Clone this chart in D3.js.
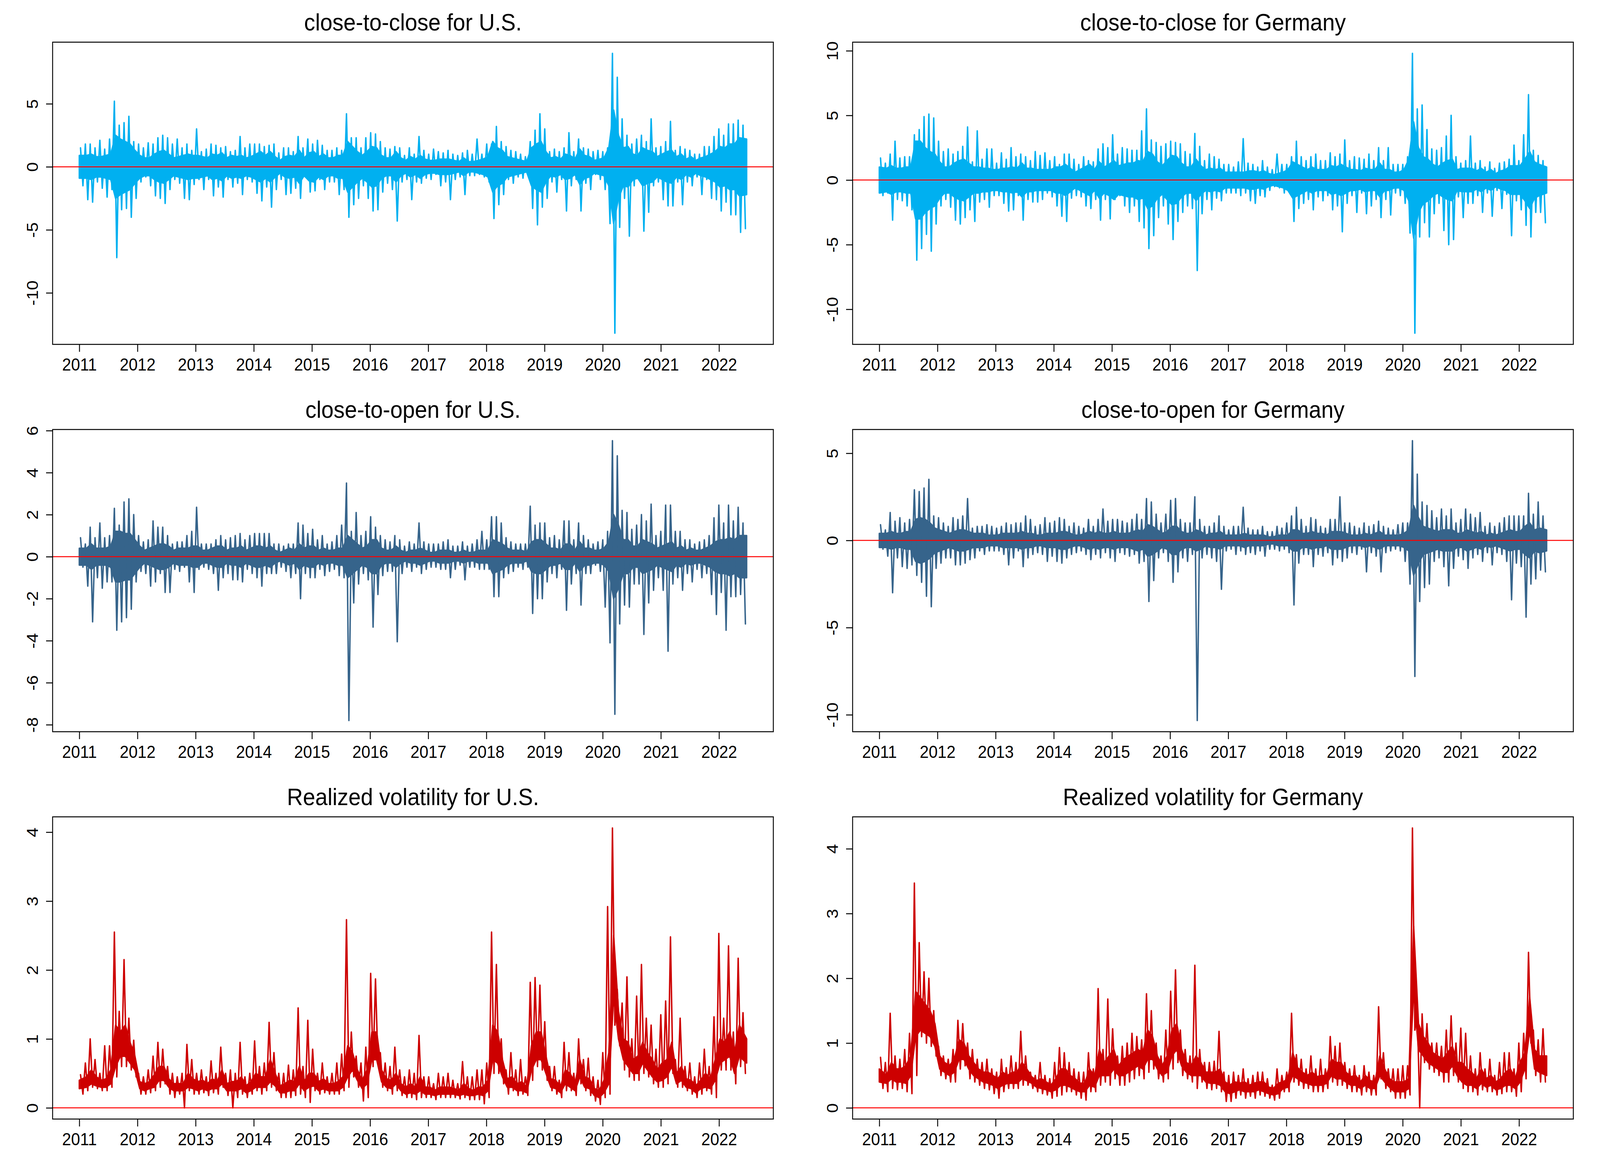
<!DOCTYPE html>
<html><head><meta charset="utf-8">
<script src="https://cdn.jsdelivr.net/npm/d3@7"></script>
<style>html,body{margin:0;padding:0;background:#fff;overflow:hidden} svg{display:block;width:100vw;height:100vh}</style>
</head><body><svg id="chart" viewBox="0 0 4409 2976" preserveAspectRatio="none"></svg>
<script>
// ---------- data, one value per month, Jan 2011 .. Jun 2022 ----------
const seriesStart = 2011.0;   // first trading day (decimal year)
const seriesEnd = 2022.475;   // last trading day (decimal year)
const yearTicks = [2011,2012,2013,2014,2015,2016,2017,2018,2019,2020,2021,2022];

// monthly maximum / minimum (spikes)
const usCCHi = [
 1.5,1.8,1.8,1.5,2.1,1.4,2.2,5.2,3.3,3.5,4.0,2.0,
 1.8,1.5,1.9,1.8,2.3,2.5,2.3,1.8,2.2,1.5,1.8,1.3,
 3.0,1.2,1.4,1.8,1.7,1.5,1.6,1.2,1.3,2.4,1.5,1.8,
 1.8,1.8,1.6,1.7,1.8,1.1,1.5,1.5,1.2,2.4,1.5,2.2,
 1.8,2.1,1.7,1.3,1.3,1.5,1.3,4.2,2.3,2.3,1.5,2.3,
 2.7,2.6,2.0,1.5,1.4,1.6,1.5,0.9,1.5,1.0,2.4,1.3,
 1.0,1.4,1.2,1.1,1.3,1.0,0.9,1.1,1.3,1.0,2.2,1.0,
 1.8,1.8,3.2,2.0,1.6,1.3,1.2,1.0,0.8,2.0,2.9,4.2,
 3.0,1.2,1.4,1.2,1.5,2.7,1.2,2.2,1.5,1.4,1.2,1.3,
 1.2,1.5,9.0,7.1,3.8,2.5,1.8,2.2,2.5,2.0,3.8,1.5,
 1.6,2.0,3.6,1.3,1.6,1.4,1.3,1.0,1.0,1.6,1.6,2.4,
 3.0,2.5,3.4,3.4,3.7,3.3];
const usCCLo = [
 -1.5,-2.6,-2.8,-1.2,-1.7,-2.4,-1.8,-7.2,-3.4,-3.3,-4.0,-2.5,
 -1.2,-0.8,-1.5,-2.3,-2.5,-2.9,-1.8,-1.0,-1.3,-2.5,-2.6,-1.4,
 -1.0,-1.8,-1.0,-2.3,-1.6,-2.4,-1.0,-1.6,-1.3,-2.2,-1.0,-1.2,
 -2.1,-2.7,-1.6,-3.2,-1.8,-1.0,-2.2,-2.1,-1.7,-2.5,-0.8,-2.0,
 -1.9,-1.0,-1.8,-1.2,-1.2,-2.2,-1.8,-4.0,-3.0,-2.5,-1.5,-2.5,
 -3.5,-3.4,-2.0,-1.3,-1.8,-4.3,-1.2,-1.0,-2.6,-1.2,-1.3,-0.9,
 -1.0,-0.6,-1.5,-1.2,-2.6,-1.0,-0.8,-2.2,-0.7,-0.7,-0.6,-0.8,
 -1.2,-4.1,-3.0,-2.2,-1.0,-1.3,-0.8,-0.9,-0.6,-3.3,-4.6,-3.2,
 -2.5,-1.2,-2.0,-1.0,-3.5,-1.5,-1.0,-3.5,-1.3,-1.8,-0.6,-1.0,
 -1.8,-4.5,-13.2,-4.8,-2.5,-5.5,-1.5,-1.0,-5.1,-3.6,-1.5,-1.2,
 -2.6,-3.1,-3.1,-1.2,-3.0,-1.2,-1.5,-0.8,-2.2,-1.0,-2.5,-2.6,
 -3.5,-2.8,-3.8,-3.8,-5.2,-4.9];
// typical daily swing (edge of the dense band)
const usCCBand = [
 0.9,0.9,1.0,0.8,0.8,0.9,1.0,2.5,2.2,2.0,1.8,1.3,
 0.9,0.7,0.7,1.0,1.2,1.3,1.0,0.7,0.8,0.9,1.0,0.9,
 0.9,0.8,0.7,1.0,0.9,1.1,0.7,0.9,0.8,0.9,0.7,0.8,
 1.0,1.2,0.9,1.2,0.8,0.5,0.8,0.9,0.8,1.3,0.7,1.1,
 1.2,0.8,1.0,0.7,0.7,0.9,0.9,2.0,1.6,1.2,0.9,1.2,
 1.6,1.5,0.9,0.7,0.7,1.2,0.7,0.5,0.8,0.6,0.9,0.6,
 0.5,0.5,0.6,0.6,0.6,0.5,0.4,0.7,0.4,0.4,0.5,0.6,
 0.8,2.0,1.5,1.3,0.8,0.7,0.6,0.5,0.4,1.5,1.8,2.0,
 1.2,0.7,0.8,0.6,1.0,0.9,0.6,1.4,0.9,0.8,0.5,0.6,
 0.7,1.5,4.5,2.5,1.5,1.6,1.0,0.9,1.5,1.3,1.2,0.8,
 1.0,1.2,1.3,0.8,1.0,0.6,0.8,0.5,0.7,0.8,1.0,1.2,
 1.6,1.5,1.8,1.8,2.3,2.2];

const deCCHi = [
 1.7,1.3,2.0,3.0,1.7,1.8,1.8,3.5,3.9,4.9,5.1,4.8,
 3.0,2.2,2.4,2.0,2.2,2.6,4.1,1.4,3.8,1.6,2.4,2.4,
 1.3,2.1,1.6,2.5,1.8,2.0,1.8,1.5,2.2,1.9,2.1,1.5,
 1.8,1.2,2.0,2.0,1.6,1.2,1.8,1.5,1.4,2.4,2.8,2.5,
 3.5,2.0,2.5,2.4,2.3,2.3,3.8,5.5,3.1,2.9,2.6,2.8,
 3.0,2.9,2.8,2.2,2.0,3.6,2.6,1.5,2.0,1.8,1.6,1.2,
 1.2,1.0,1.4,3.2,1.3,1.2,1.0,1.5,1.0,0.8,2.0,1.2,
 1.2,1.8,3.0,1.8,1.5,1.8,2.0,1.5,1.5,2.1,1.8,2.0,
 3.1,1.5,1.8,1.7,1.6,2.0,1.5,2.5,1.5,2.5,1.2,1.2,
 1.2,1.8,9.8,5.5,5.8,3.9,2.4,2.3,2.5,3.4,5.0,1.8,
 1.3,1.5,3.4,1.3,1.5,1.0,1.4,0.9,1.3,1.4,1.6,2.7,
 1.5,3.5,6.6,2.3,1.9,1.5];
const deCCLo = [
 -1.2,-1.0,-3.1,-1.5,-1.6,-2.0,-2.3,-6.2,-5.3,-4.2,-5.5,-3.4,
 -2.0,-1.5,-2.1,-3.1,-3.4,-2.9,-2.3,-3.2,-1.7,-1.5,-2.1,-1.2,
 -1.2,-1.8,-2.4,-2.3,-1.2,-3.1,-1.5,-1.7,-1.7,-1.5,-1.0,-1.3,
 -2.0,-2.8,-3.2,-1.4,-1.2,-1.3,-2.0,-2.2,-1.5,-3.1,-1.5,-3.0,
 -1.5,-1.2,-2.0,-2.5,-2.0,-3.2,-3.7,-5.3,-4.3,-2.9,-2.0,-3.4,
 -4.6,-3.2,-2.5,-2.0,-2.2,-7.0,-2.6,-1.5,-2.3,-1.4,-1.6,-1.0,
 -1.0,-1.0,-1.2,-1.0,-1.6,-1.8,-1.2,-1.3,-0.8,-0.5,-0.6,-1.0,
 -0.8,-3.2,-2.2,-1.8,-1.5,-2.3,-1.3,-1.6,-1.2,-2.3,-2.0,-4.0,
 -1.8,-1.2,-2.5,-1.0,-2.6,-2.0,-1.5,-2.9,-1.5,-2.7,-1.0,-1.2,
 -1.8,-4.1,-11.85,-4.4,-3.3,-4.4,-2.6,-1.8,-3.9,-5.0,-4.6,-1.3,
 -2.9,-1.8,-1.8,-1.2,-2.5,-1.0,-2.8,-0.8,-2.2,-1.1,-4.3,-1.6,
 -2.3,-3.5,-4.4,-2.5,-2.5,-3.3];
const deCCBand = [
 1.0,0.9,1.1,0.9,0.9,1.0,1.0,3.0,3.0,2.5,2.2,2.0,
 1.4,1.0,1.0,1.3,1.5,1.6,1.3,1.0,1.0,0.9,0.9,0.8,
 0.8,0.9,0.9,1.0,0.9,1.3,0.9,0.9,0.8,0.8,0.8,0.8,
 1.0,1.0,1.2,0.9,0.6,0.8,1.0,1.2,0.8,1.4,1.0,1.2,
 1.5,1.1,1.2,1.3,1.3,1.5,1.4,2.2,2.0,1.4,1.1,1.5,
 1.9,1.8,1.3,1.0,1.0,1.6,1.1,0.8,0.9,0.8,0.9,0.6,
 0.6,0.6,0.6,0.6,0.7,0.7,0.6,0.7,0.5,0.4,0.5,0.6,
 0.8,1.4,1.2,1.0,0.8,1.0,0.8,0.8,0.8,1.1,1.0,1.2,
 1.0,0.8,0.8,0.7,0.9,0.8,0.8,1.3,0.8,0.8,0.6,0.6,
 0.8,1.6,4.5,2.5,1.8,1.6,1.2,1.0,1.3,1.5,1.6,0.8,
 0.9,0.9,0.9,0.7,0.9,0.6,0.8,0.5,0.7,0.8,1.1,1.1,
 1.1,1.6,2.2,1.4,1.2,1.0];

const usCOHi = [
 0.9,0.6,1.4,0.9,1.6,0.9,1.0,2.3,1.5,2.6,2.75,2.0,
 1.0,0.7,0.8,1.7,1.4,1.4,1.0,0.6,0.7,0.7,1.0,1.2,
 2.35,0.6,0.6,0.6,0.8,1.0,0.8,0.9,1.0,1.1,0.8,1.0,
 1.1,1.1,1.1,1.1,0.6,0.6,0.5,0.6,0.6,1.6,1.5,1.1,
 1.3,0.8,1.0,0.6,0.7,1.0,1.5,3.5,1.2,2.1,1.0,1.2,
 1.9,1.4,1.0,0.8,0.7,1.0,0.8,0.5,0.7,0.6,1.6,0.7,
 0.6,0.6,0.6,0.7,0.8,0.5,0.5,0.7,0.5,0.6,0.8,1.2,
 0.8,1.9,1.9,1.6,0.9,0.7,0.6,0.6,0.6,2.4,1.5,1.6,
 1.6,0.9,1.0,0.8,1.7,1.7,0.8,1.6,1.0,0.8,0.6,0.7,
 0.8,1.2,5.52,4.8,2.2,2.1,1.3,1.5,2.0,1.7,2.5,1.0,
 1.2,2.45,2.45,1.2,1.2,0.8,0.8,0.6,0.7,0.8,1.0,1.85,
 2.45,1.6,2.45,1.7,2.35,1.6];
const usCOLo = [
 -0.5,-1.4,-3.1,-1.0,-1.5,-1.2,-1.2,-3.5,-3.1,-2.9,-2.5,-1.2,
 -0.7,-0.8,-1.4,-1.2,-0.8,-1.7,-1.7,-0.6,-0.7,-0.5,-1.2,-1.7,
 -0.6,-0.5,-0.6,-0.8,-1.6,-1.0,-0.8,-1.1,-1.1,-1.2,-0.6,-0.8,
 -1.0,-1.4,-0.8,-0.8,-0.8,-0.5,-0.7,-1.0,-0.8,-2.0,-0.8,-1.0,
 -1.0,-0.6,-0.9,-0.7,-0.6,-0.9,-1.0,-7.8,-2.2,-1.3,-0.8,-1.1,
 -3.35,-1.8,-0.9,-0.7,-0.7,-4.05,-0.8,-0.5,-0.7,-0.5,-0.8,-0.6,
 -0.5,-0.5,-0.6,-0.6,-1.0,-0.6,-0.4,-1.1,-0.5,-0.5,-0.6,-0.6,
 -0.6,-1.9,-1.9,-1.0,-0.8,-0.7,-0.5,-0.6,-0.5,-2.7,-2.0,-2.0,
 -1.2,-0.8,-1.0,-0.6,-2.55,-1.3,-0.8,-2.3,-0.8,-0.8,-0.4,-0.7,
 -2.4,-4.1,-7.5,-3.2,-2.3,-2.4,-1.3,-1.3,-3.7,-2.2,-1.6,-1.0,
 -1.6,-4.5,-1.3,-1.0,-1.6,-0.8,-1.2,-0.6,-1.0,-0.8,-1.8,-2.75,
 -1.7,-3.5,-1.9,-1.9,-1.8,-3.2];
const usCOBand = [
 0.4,0.4,0.6,0.4,0.4,0.4,0.5,1.2,1.2,1.1,1.1,0.8,
 0.5,0.3,0.4,0.5,0.6,0.6,0.5,0.3,0.4,0.4,0.4,0.5,
 0.5,0.3,0.3,0.4,0.5,0.5,0.3,0.4,0.4,0.5,0.3,0.4,
 0.5,0.5,0.4,0.5,0.3,0.2,0.3,0.4,0.3,0.6,0.4,0.5,
 0.5,0.3,0.4,0.3,0.3,0.4,0.4,1.0,0.8,0.6,0.4,0.5,
 0.8,0.8,0.4,0.3,0.3,0.5,0.3,0.2,0.3,0.3,0.4,0.3,
 0.2,0.2,0.3,0.3,0.3,0.2,0.2,0.3,0.2,0.2,0.3,0.3,
 0.3,0.8,0.7,0.6,0.4,0.3,0.3,0.3,0.2,0.7,0.8,0.8,
 0.6,0.4,0.4,0.3,0.6,0.6,0.3,0.7,0.4,0.4,0.3,0.3,
 0.4,0.7,2.0,1.5,0.8,0.8,0.5,0.5,0.8,0.7,0.6,0.4,
 0.5,0.6,0.7,0.4,0.5,0.3,0.4,0.3,0.3,0.4,0.5,0.7,
 0.8,0.8,0.9,0.8,1.0,1.0];

const deCOHi = [
 0.9,0.6,1.6,1.1,1.3,1.0,1.2,2.9,2.8,3.0,3.5,1.4,
 1.3,1.0,0.8,1.3,1.2,1.4,2.4,0.7,0.8,0.8,0.9,0.8,
 0.7,0.8,1.0,0.9,1.0,1.0,1.4,1.2,0.8,0.9,1.3,1.0,
 1.1,1.3,1.2,0.8,1.0,0.8,0.7,1.2,0.8,1.2,1.8,1.1,
 1.2,1.2,1.1,1.0,1.2,1.5,1.2,2.4,2.2,1.5,1.0,1.5,
 2.3,2.4,1.2,1.0,1.0,2.5,1.2,0.8,0.8,1.0,1.4,0.8,
 0.6,0.8,0.8,1.9,0.7,0.6,0.6,0.8,0.5,0.5,0.8,0.7,
 1.0,1.4,1.9,1.2,0.8,1.3,1.2,0.8,0.7,1.2,1.2,2.5,
 1.0,1.0,0.8,0.7,1.0,0.8,0.9,1.1,0.8,0.7,0.6,0.9,
 1.0,1.0,5.72,3.8,2.2,2.0,1.7,1.3,1.8,1.4,1.8,1.0,
 1.2,1.8,1.5,1.3,1.6,0.8,1.0,0.8,1.0,1.3,1.4,1.4,
 1.4,1.4,2.7,1.5,2.2,1.4];
const deCOLo = [
 -0.5,-0.9,-3.0,-1.0,-1.5,-1.6,-1.4,-2.0,-2.4,-3.2,-3.8,-1.6,
 -1.3,-1.0,-1.0,-1.4,-1.4,-1.3,-1.1,-1.0,-0.6,-0.8,-0.6,-0.6,
 -0.6,-0.8,-1.4,-1.0,-0.6,-1.5,-1.0,-0.8,-0.7,-0.8,-1.2,-0.9,
 -1.2,-1.3,-1.0,-0.8,-0.7,-0.6,-0.8,-1.1,-0.8,-1.0,-0.7,-1.0,
 -1.2,-0.7,-0.8,-0.9,-0.8,-1.3,-1.2,-3.5,-2.3,-1.0,-0.7,-1.2,
 -2.4,-1.8,-1.0,-1.2,-0.8,-10.33,-1.0,-0.8,-1.0,-1.2,-2.8,-0.6,
 -0.5,-0.8,-0.6,-0.8,-0.7,-0.8,-0.6,-0.9,-0.5,-0.5,-0.6,-0.5,
 -0.7,-3.7,-1.3,-0.8,-0.8,-1.5,-0.8,-0.9,-0.7,-1.4,-1.0,-1.2,
 -1.0,-0.7,-0.8,-0.5,-1.8,-0.7,-0.9,-1.8,-0.7,-0.6,-0.5,-0.6,
 -1.2,-2.5,-7.8,-3.5,-2.7,-2.5,-1.2,-1.0,-1.5,-2.6,-1.6,-0.9,
 -1.1,-1.6,-1.0,-0.8,-1.2,-0.7,-1.4,-0.7,-0.8,-1.2,-3.4,-1.3,
 -1.5,-4.4,-2.5,-2.2,-1.7,-1.8];
const deCOBand = [
 0.4,0.4,0.5,0.4,0.4,0.5,0.5,1.2,1.3,1.2,1.0,0.7,
 0.6,0.5,0.4,0.5,0.6,0.6,0.5,0.4,0.4,0.4,0.3,0.3,
 0.3,0.4,0.4,0.4,0.4,0.5,0.4,0.4,0.3,0.3,0.4,0.4,
 0.4,0.5,0.5,0.4,0.3,0.3,0.4,0.5,0.4,0.5,0.4,0.4,
 0.5,0.4,0.4,0.4,0.5,0.6,0.5,0.9,0.8,0.6,0.4,0.5,
 0.8,0.8,0.5,0.4,0.4,0.6,0.5,0.3,0.4,0.4,0.5,0.3,
 0.3,0.3,0.3,0.4,0.3,0.3,0.3,0.3,0.2,0.2,0.3,0.3,
 0.3,0.6,0.6,0.4,0.4,0.5,0.4,0.4,0.3,0.5,0.5,0.5,
 0.4,0.3,0.3,0.3,0.4,0.3,0.4,0.5,0.3,0.3,0.3,0.3,
 0.4,0.6,2.0,1.3,0.8,0.7,0.6,0.5,0.6,0.6,0.6,0.4,
 0.4,0.6,0.5,0.4,0.5,0.3,0.4,0.3,0.4,0.5,0.6,0.5,
 0.5,0.8,1.0,0.6,0.7,0.6];

const usRVHi = [
 0.48,0.65,1.0,0.7,0.5,0.9,0.9,2.55,1.4,2.15,1.3,0.98,
 0.5,0.45,0.55,0.75,0.95,0.85,0.6,0.5,0.45,0.5,0.92,0.7,
 0.5,0.55,0.45,0.68,0.5,0.88,0.5,0.55,0.5,0.95,0.45,0.5,
 0.97,0.6,0.65,1.24,0.8,0.5,0.5,0.62,0.55,1.45,0.6,1.27,
 0.85,0.5,0.65,0.45,0.5,0.65,0.78,2.73,1.1,0.75,0.65,0.88,
 1.95,1.87,0.8,0.65,0.6,0.88,0.55,0.45,0.55,0.5,1.05,0.45,
 0.45,0.35,0.5,0.45,0.5,0.4,0.35,0.67,0.45,0.45,0.55,0.55,
 0.65,2.55,2.08,1.0,0.55,0.8,0.55,0.7,0.45,1.82,1.89,1.78,
 1.25,0.6,0.6,0.4,0.95,0.8,0.5,1.0,0.7,0.72,0.45,0.4,
 0.8,2.92,4.06,1.72,1.52,1.9,1.0,1.62,2.08,1.3,1.2,0.85,
 1.35,1.55,2.48,0.7,1.3,0.6,0.65,0.45,0.65,0.85,0.6,1.32,
 2.53,1.3,2.35,1.1,2.17,1.38];
const usRVLo = [
 0.2,0.25,0.3,0.28,0.25,0.25,0.3,0.45,0.6,0.6,0.55,0.45,
 0.2,0.2,0.22,0.25,0.3,0.35,0.2,0.15,0.2,0.0,0.25,0.2,
 0.2,0.22,0.18,0.22,0.2,0.3,0.18,0.0,0.15,0.2,0.15,0.2,
 0.25,0.2,0.25,0.3,0.25,0.15,0.15,0.15,0.18,0.2,0.15,0.08,
 0.25,0.2,0.22,0.2,0.2,0.2,0.25,0.3,0.45,0.3,0.1,0.15,
 0.6,0.65,0.3,0.25,0.2,0.25,0.18,0.15,0.15,0.12,0.15,0.15,
 0.15,0.12,0.15,0.15,0.15,0.15,0.13,0.15,0.12,0.12,0.12,0.06,
 0.15,0.5,0.5,0.35,0.2,0.25,0.18,0.2,0.18,0.4,0.6,0.55,
 0.4,0.25,0.2,0.15,0.25,0.25,0.18,0.35,0.25,0.18,0.1,0.05,
 0.15,0.2,1.2,0.9,0.55,0.45,0.4,0.4,0.5,0.45,0.35,0.3,
 0.3,0.35,0.5,0.3,0.3,0.25,0.2,0.15,0.2,0.25,0.2,0.15,
 0.55,0.55,0.55,0.35,0.6,0.5];
// dense band of the realized volatility line (lower / upper edge)
const usRVBandLo = [
 0.28,0.3,0.35,0.32,0.3,0.3,0.35,0.6,0.75,0.75,0.65,0.55,
 0.28,0.25,0.28,0.3,0.4,0.4,0.3,0.25,0.25,0.25,0.3,0.28,
 0.25,0.28,0.25,0.28,0.28,0.35,0.25,0.25,0.25,0.28,0.22,0.25,
 0.3,0.3,0.3,0.38,0.32,0.22,0.22,0.25,0.25,0.35,0.25,0.3,
 0.32,0.25,0.28,0.25,0.25,0.25,0.3,0.45,0.55,0.4,0.28,0.35,
 0.7,0.7,0.38,0.3,0.28,0.35,0.25,0.2,0.22,0.2,0.25,0.2,
 0.2,0.18,0.2,0.2,0.2,0.2,0.18,0.2,0.18,0.18,0.2,0.18,
 0.25,0.7,0.65,0.45,0.3,0.3,0.25,0.25,0.22,0.55,0.7,0.7,
 0.5,0.3,0.28,0.22,0.35,0.3,0.25,0.45,0.3,0.28,0.18,0.15,
 0.22,0.35,1.6,1.0,0.7,0.6,0.5,0.5,0.65,0.55,0.45,0.38,
 0.4,0.45,0.6,0.35,0.4,0.3,0.28,0.22,0.28,0.3,0.28,0.4,
 0.65,0.7,0.75,0.5,0.75,0.65];
const usRVBandHi = [
 0.4,0.45,0.55,0.45,0.4,0.42,0.55,1.2,1.1,1.2,0.95,0.75,
 0.38,0.35,0.38,0.48,0.6,0.6,0.42,0.35,0.35,0.35,0.5,0.42,
 0.38,0.4,0.35,0.42,0.38,0.55,0.35,0.38,0.38,0.45,0.32,0.38,
 0.5,0.45,0.45,0.7,0.5,0.32,0.35,0.4,0.38,0.6,0.38,0.5,
 0.5,0.38,0.42,0.35,0.35,0.38,0.45,0.9,0.8,0.55,0.4,0.55,
 1.1,1.1,0.55,0.42,0.4,0.5,0.35,0.3,0.35,0.3,0.45,0.3,
 0.3,0.25,0.3,0.3,0.3,0.28,0.25,0.35,0.28,0.25,0.3,0.3,
 0.4,1.2,1.1,0.7,0.42,0.45,0.35,0.38,0.3,0.9,1.1,1.1,
 0.75,0.42,0.4,0.3,0.55,0.5,0.35,0.7,0.45,0.42,0.28,0.25,
 0.4,0.8,2.5,1.4,1.0,0.95,0.7,0.75,0.95,0.8,0.7,0.55,
 0.65,0.7,0.95,0.5,0.6,0.42,0.4,0.32,0.4,0.5,0.42,0.7,
 1.0,0.95,1.1,0.8,1.2,1.0];

const deRVHi = [
 0.78,0.7,1.46,0.8,0.75,0.9,1.15,3.47,2.55,2.1,2.0,1.5,
 0.95,0.8,0.75,0.9,1.35,1.3,1.0,0.9,0.75,0.7,0.75,0.6,
 0.55,0.75,0.62,0.8,0.7,1.18,0.8,0.55,0.5,0.7,0.5,0.45,
 0.7,0.93,0.85,0.7,0.6,0.55,0.55,0.85,0.6,1.84,0.9,1.68,
 1.22,0.8,0.95,1.0,1.15,1.1,1.05,1.76,1.5,1.0,0.8,1.2,
 1.8,2.13,1.2,0.9,0.8,2.2,0.9,0.7,0.7,0.72,1.18,0.55,
 0.5,0.55,0.5,0.6,0.45,0.5,0.55,0.55,0.45,0.35,0.6,0.5,
 0.55,1.46,0.82,0.75,0.6,0.8,0.6,0.75,0.6,1.1,0.95,1.0,
 0.7,0.6,0.65,0.5,0.65,0.55,0.5,1.56,0.85,0.6,0.6,0.6,
 0.65,0.65,4.32,1.5,1.45,1.3,1.0,1.0,0.95,1.2,1.42,1.0,
 1.23,1.15,0.8,0.6,0.85,0.6,0.75,0.5,0.7,0.85,0.85,0.6,
 1.0,1.15,2.4,1.2,1.05,1.22];
const deRVLo = [
 0.3,0.25,0.3,0.28,0.3,0.25,0.22,0.5,1.1,1.0,0.95,0.8,
 0.5,0.45,0.4,0.4,0.6,0.65,0.45,0.4,0.35,0.3,0.28,0.22,
 0.15,0.25,0.3,0.3,0.3,0.35,0.35,0.3,0.25,0.22,0.2,0.15,
 0.18,0.2,0.25,0.25,0.2,0.15,0.12,0.25,0.25,0.35,0.4,0.35,
 0.45,0.35,0.35,0.4,0.45,0.5,0.45,0.55,0.6,0.45,0.4,0.45,
 0.6,0.7,0.5,0.45,0.4,0.3,0.4,0.3,0.28,0.3,0.25,0.1,
 0.1,0.15,0.2,0.15,0.18,0.15,0.2,0.18,0.15,0.12,0.15,0.25,
 0.25,0.4,0.35,0.3,0.3,0.25,0.25,0.25,0.3,0.4,0.35,0.35,
 0.3,0.25,0.25,0.2,0.25,0.2,0.2,0.45,0.3,0.25,0.15,0.15,
 0.15,0.2,1.2,0.0,0.7,0.6,0.55,0.5,0.4,0.4,0.5,0.4,
 0.3,0.25,0.25,0.2,0.28,0.25,0.25,0.2,0.22,0.25,0.25,0.18,
 0.25,0.45,1.0,0.5,0.4,0.4];
const deRVBandLo = [
 0.4,0.38,0.45,0.4,0.4,0.38,0.5,1.1,1.2,1.15,1.1,0.95,
 0.6,0.55,0.5,0.55,0.75,0.75,0.6,0.5,0.45,0.4,0.38,0.35,
 0.3,0.35,0.38,0.38,0.38,0.45,0.42,0.38,0.32,0.3,0.28,0.25,
 0.28,0.35,0.35,0.32,0.28,0.25,0.25,0.35,0.32,0.5,0.5,0.5,
 0.6,0.5,0.5,0.55,0.6,0.65,0.6,0.75,0.75,0.6,0.5,0.55,
 0.8,0.9,0.65,0.55,0.5,0.5,0.5,0.4,0.38,0.38,0.35,0.25,
 0.22,0.25,0.28,0.25,0.25,0.25,0.28,0.25,0.22,0.2,0.22,0.3,
 0.32,0.5,0.45,0.4,0.38,0.35,0.35,0.35,0.38,0.5,0.45,0.45,
 0.4,0.35,0.35,0.3,0.35,0.3,0.3,0.5,0.4,0.32,0.25,0.25,
 0.25,0.3,1.8,0.9,0.8,0.7,0.65,0.6,0.55,0.55,0.65,0.5,
 0.4,0.35,0.35,0.3,0.38,0.32,0.35,0.28,0.3,0.35,0.35,0.3,
 0.4,0.6,1.2,0.6,0.55,0.5];
const deRVBandHi = [
 0.6,0.5,0.7,0.6,0.6,0.65,0.8,1.8,1.7,1.6,1.5,1.3,
 0.8,0.7,0.65,0.75,1.05,1.0,0.8,0.7,0.6,0.55,0.55,0.5,
 0.45,0.55,0.5,0.55,0.55,0.7,0.6,0.48,0.42,0.45,0.4,0.35,
 0.45,0.6,0.6,0.5,0.45,0.38,0.38,0.6,0.48,0.9,0.7,0.8,
 0.9,0.65,0.75,0.8,0.85,0.9,0.85,1.2,1.1,0.8,0.65,0.8,
 1.2,1.3,0.9,0.7,0.65,0.8,0.7,0.55,0.55,0.55,0.6,0.4,
 0.35,0.4,0.38,0.4,0.35,0.38,0.4,0.4,0.32,0.3,0.38,0.4,
 0.45,0.85,0.62,0.55,0.5,0.55,0.48,0.5,0.5,0.75,0.7,0.7,
 0.55,0.48,0.5,0.4,0.5,0.42,0.4,0.8,0.6,0.45,0.4,0.4,
 0.4,0.45,2.8,1.3,1.1,1.0,0.85,0.8,0.75,0.85,0.95,0.7,
 0.7,0.6,0.55,0.45,0.6,0.45,0.5,0.4,0.45,0.55,0.6,0.45,
 0.7,0.85,1.7,0.9,0.8,0.8];

const ticksUSCC = [-10,-5,0,5];
const ticksDECC = [-10,-5,0,5,10];
const ticksUSCO = [-8,-6,-4,-2,0,2,4,6];
const ticksDECO = [-10,-5,0,5];
const ticksRV = [0,1,2,3,4];

const titles = ["close-to-close for U.S.","close-to-close for Germany",
                "close-to-open for U.S.","close-to-open for Germany",
                "Realized volatility for U.S.","Realized volatility for Germany"];

// ---------- drawing ----------
const FONT = "'Liberation Sans', Arial, Helvetica, sans-serif";
const svg = d3.select("#chart");
svg.append("rect").attr("width",4409).attr("height",2976).attr("fill","#fff");

const colX = [0, 2204.5], rowY = [0, 992, 1984];
const box = {l:145, r:2131, t:108, b:882};

const panels = [
  {title:titles[0], hi:usCCHi, lo:usCCLo, bLo:usCCBand.map(v=>-v), bHi:usCCBand, color:"#00B0F0", ticks:ticksUSCC, col:0,row:0},
  {title:titles[1], hi:deCCHi, lo:deCCLo, bLo:deCCBand.map(v=>-v), bHi:deCCBand, color:"#00B0F0", ticks:ticksDECC, col:1,row:0},
  {title:titles[2], hi:usCOHi, lo:usCOLo, bLo:usCOBand.map(v=>-v), bHi:usCOBand, color:"#36648B", ticks:ticksUSCO, col:0,row:1},
  {title:titles[3], hi:deCOHi, lo:deCOLo, bLo:deCOBand.map(v=>-v), bHi:deCOBand, color:"#36648B", ticks:ticksDECO, col:1,row:1},
  {title:titles[4], hi:usRVHi, lo:usRVLo, bLo:usRVBandLo, bHi:usRVBandHi, color:"#CD0000", ticks:ticksRV, col:0,row:2},
  {title:titles[5], hi:deRVHi, lo:deRVLo, bLo:deRVBandLo, bHi:deRVBandHi, color:"#CD0000", ticks:ticksRV, col:1,row:2}
];

const span = seriesEnd - seriesStart;
panels.forEach(p => {
  const g = svg.append("g").attr("transform", `translate(${colX[p.col]},${rowY[p.row]})`);
  const x = d3.scaleLinear()
    .domain([seriesStart - 0.04*span, seriesEnd + 0.04*span])
    .range([box.l, box.r]);
  const vmin = d3.min(p.lo), vmax = d3.max(p.hi), r = vmax - vmin;
  const y = d3.scaleLinear().domain([vmin - 0.04*r, vmax + 0.04*r]).range([box.b, box.t]);

  const n = p.hi.length;
  const stepT = span / n;
  const clampT = t => Math.max(seriesStart, Math.min(seriesEnd, t));

  // dense band
  const band = p.bHi.map((h, m) => ({t: clampT(seriesStart + (m + 0.5) * stepT), lo: p.bLo[m], hi: h}));
  band[0].t = seriesStart; band[band.length-1].t = seriesEnd;
  g.append("path").datum(band)
    .attr("d", d3.area().x(d => x(d.t)).y0(d => y(d.lo)).y1(d => y(d.hi)))
    .attr("fill", p.color).attr("stroke", p.color).attr("stroke-width", 4)
    .attr("stroke-linejoin","round");

  // spikes: monthly extremes
  const pts = [];
  p.hi.forEach((h, m) => {
    pts.push({t: seriesStart + (m + 0.25) * stepT, v: h});
    pts.push({t: seriesStart + (m + 0.75) * stepT, v: p.lo[m]});
  });
  g.append("path").datum(pts).attr("d", d3.line().x(d => x(d.t)).y(d => y(d.v)))
    .attr("fill","none").attr("stroke", p.color).attr("stroke-width", 4)
    .attr("stroke-linejoin","round").attr("stroke-linecap","round");

  // zero reference line
  g.append("line").attr("x1", box.l).attr("x2", box.r)
    .attr("y1", y(0)).attr("y2", y(0))
    .attr("stroke", "#FF0000").attr("stroke-width", 2.5);

  // box
  g.append("rect").attr("x", box.l).attr("y", box.t)
    .attr("width", box.r - box.l).attr("height", box.b - box.t)
    .attr("fill","none").attr("stroke","#000").attr("stroke-width",2.5);

  // x axis
  const xa = g.append("g").attr("transform", `translate(0,${box.b})`)
    .call(d3.axisBottom(x).tickValues(yearTicks).tickFormat(d => String(d))
      .tickSize(19).tickSizeOuter(0).tickPadding(16));
  xa.select(".domain").remove();
  xa.selectAll(".tick line").attr("stroke","#000").attr("stroke-width",2.5);
  xa.selectAll(".tick text").attr("fill","#000")
    .style("font-family", FONT).style("font-size","44.5px");

  // y axis
  const ya = g.append("g").attr("transform", `translate(${box.l},0)`)
    .call(d3.axisLeft(y).tickValues(p.ticks).tickFormat(d => String(d))
      .tickSize(18).tickSizeOuter(0));
  ya.select(".domain").remove();
  ya.selectAll(".tick line").attr("stroke","#000").attr("stroke-width",2.5);
  ya.selectAll(".tick text").attr("x", null).attr("dy", null)
    .attr("text-anchor","middle").attr("fill","#000")
    .attr("transform","translate(-41,0) rotate(-90)")
    .style("font-family", FONT).style("font-size","44.5px");

  // title
  g.append("text").attr("x", (box.l + box.r)/2).attr("y", 78)
    .attr("text-anchor","middle").attr("fill","#000")
    .style("font-family", FONT).style("font-size","61px")
    .text(p.title);
});
</script></body></html>
